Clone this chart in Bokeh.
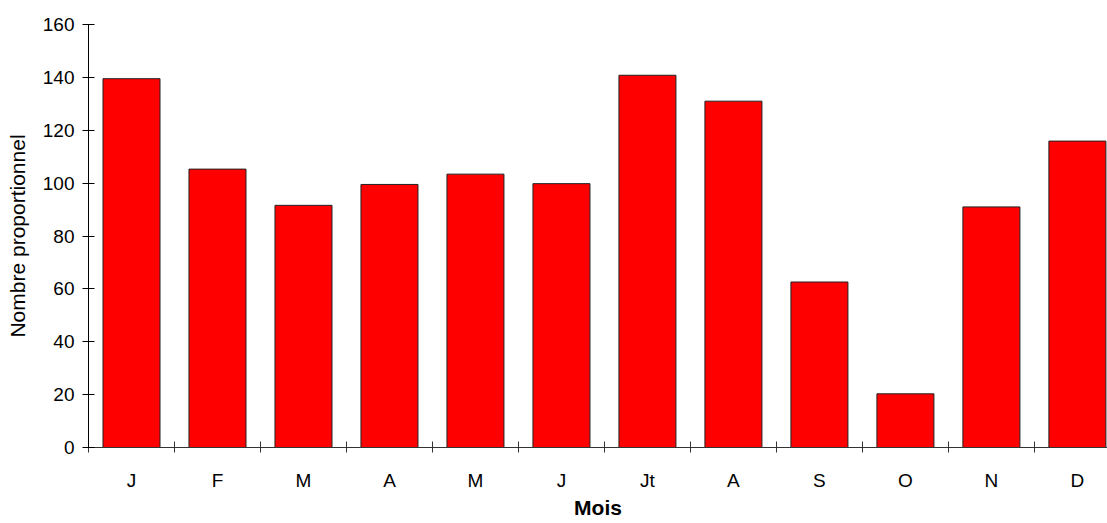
from bokeh.plotting import figure
from bokeh.models import Range1d, FixedTicker, ColumnDataSource
from bokeh.embed import file_html
from bokeh.resources import INLINE

months = ["J", "F", "M", "A", "M", "J", "Jt", "A", "S", "O", "N", "D"]
values = [139.5, 105.3, 91.6, 99.5, 103.4, 99.8, 140.8, 131.0, 62.6, 20.3, 91.0, 115.9]
y_ticks = [0, 20, 40, 60, 80, 100, 120, 140, 160]
x_title = "Mois"
y_title = "Nombre proportionnel"

centers = [i + 0.5 for i in range(len(months))]
bounds = list(range(0, len(months)))

src = ColumnDataSource(dict(x=centers, top=values, label=months))

p = figure(width=1107, height=523, output_backend="svg", toolbar_location=None,
           x_range=Range1d(0, 11.85), y_range=Range1d(0, 160),
           min_border_left=88, min_border_top=24, min_border_bottom=76, min_border_right=0)
p.outline_line_color = None
p.xgrid.visible = False
p.ygrid.visible = False
p.background_fill_color = "white"
p.border_fill_color = "white"

p.vbar(x="x", top="top", bottom=0, width=0.663, source=src,
       fill_color="#ff0000", line_color="#222222", line_width=1)

FONT = "Liberation Sans"

ya = p.yaxis[0]
ya.ticker = FixedTicker(ticks=y_ticks)
ya.axis_line_color = "black"
ya.major_tick_line_color = "black"
ya.major_tick_in = 6
ya.major_tick_out = 6
ya.minor_tick_line_color = None
ya.major_label_text_font = FONT
ya.major_label_text_font_size = "19px"
ya.major_label_text_color = "black"
ya.major_label_standoff = 8
ya.axis_label = y_title
ya.axis_label_text_font = FONT
ya.axis_label_text_font_size = "21px"
ya.axis_label_text_font_style = "normal"
ya.axis_label_text_color = "black"
ya.axis_label_standoff = 11

xa = p.xaxis[0]
xa.ticker = FixedTicker(ticks=centers, minor_ticks=bounds)
xa.major_label_overrides = {c: m for c, m in zip(centers, months)}
xa.axis_line_color = "#333333"
xa.major_tick_line_color = None
xa.major_tick_in = 0
xa.major_tick_out = 0
xa.minor_tick_line_color = "#333333"
xa.minor_tick_in = 6
xa.minor_tick_out = 5
xa.major_label_text_font = FONT
xa.major_label_text_font_size = "19px"
xa.major_label_text_color = "black"
xa.major_label_standoff = 17
xa.axis_label = x_title
xa.axis_label_text_font = FONT
xa.axis_label_text_font_size = "21px"
xa.axis_label_text_font_style = "bold"
xa.axis_label_text_color = "black"
xa.axis_label_standoff = 2

open("out.html", "w").write(file_html(p, INLINE))
